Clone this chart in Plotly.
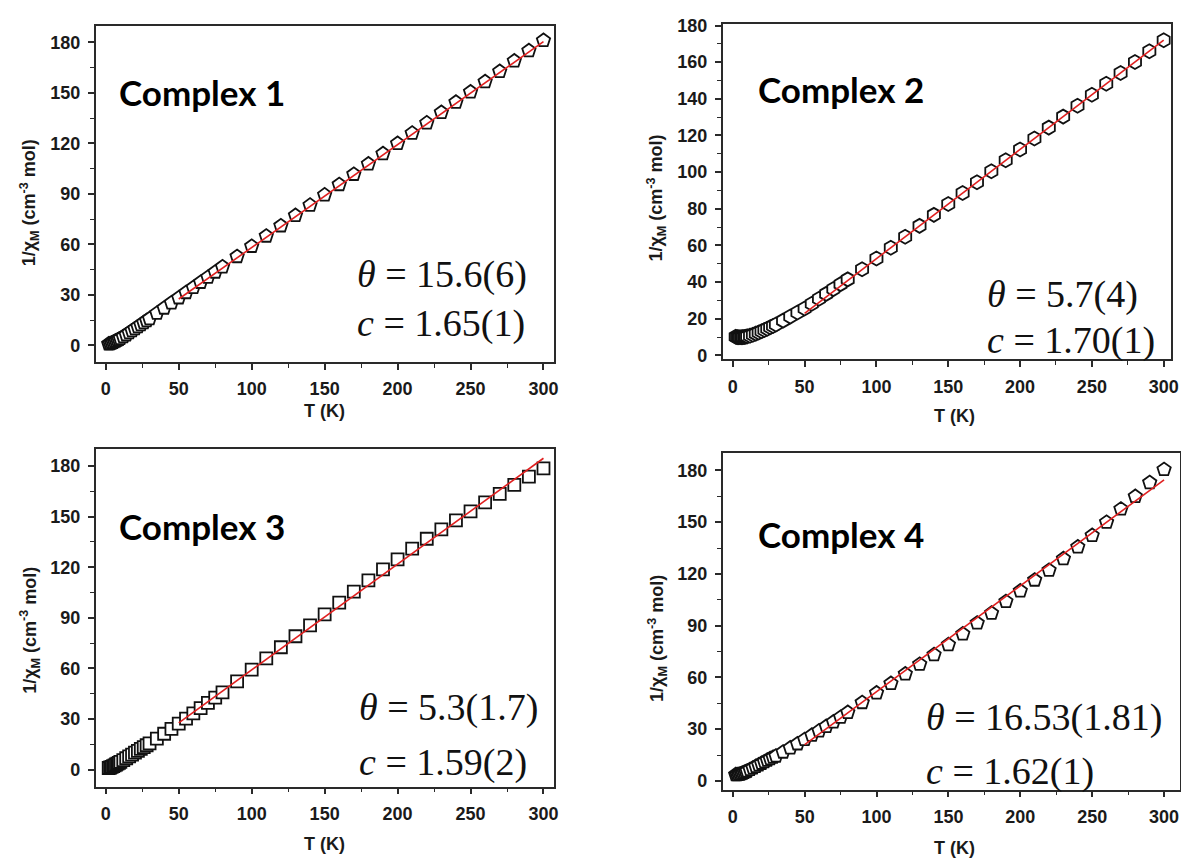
import plotly.graph_objects as go

# figure div sits 8px in from the page corner (default body margin)
OFF = 8
W, H = 1189, 861
# small empirical correction of the photographed page (scale + shift)
SX, AX = 0.993, 0.5
SY, AY = 0.993, 3.3

# ---------------- data ----------------
T_low = [2, 3, 4, 5, 6, 7, 8, 9, 10, 12, 14, 16, 18, 20, 22, 24, 26, 28, 30,
         35, 40, 45, 50, 55, 60, 65, 70, 75, 80,
         90, 100, 110, 120, 130, 140, 150, 160, 170, 180, 190, 200,
         210, 220, 230, 240, 250, 260, 270, 280, 290, 300]

inv_chi_1 = [0.8, 1.0, 1.3, 1.7, 2.1, 2.6, 3.0, 3.5, 4.0, 5.1, 6.2, 7.4, 8.6, 9.8, 11.0, 12.2, 13.4, 14.6, 15.8,
             19.0, 22.1, 25.2, 28.2, 31.3, 34.3, 37.4, 40.4, 43.5, 46.6,
             52.7, 58.8, 64.9, 71.0, 77.2, 83.3, 89.4, 95.5, 101.6, 107.8, 113.9, 120.0,
             126.1, 132.2, 138.4, 144.5, 150.6, 156.7, 162.8, 169.0, 175.1, 181.2]

inv_chi_2 = [10.2, 10.0, 9.9, 9.9, 9.9, 10.0, 10.1, 10.2, 10.4, 10.8, 11.3, 11.9, 12.5, 13.2, 13.9, 14.6, 15.4, 16.1, 16.9,
             19.0, 21.2, 23.4, 25.6, 28.2, 30.9, 33.6, 36.2, 38.9, 41.5,
             47.0, 52.9, 58.8, 64.8, 70.7, 76.7, 82.6, 88.6, 94.5, 100.5, 106.5, 112.4,
             118.4, 124.3, 130.3, 136.2, 142.2, 148.2, 154.1, 160.1, 166.0, 172.0]

inv_chi_3 = [1.0, 1.3, 1.7, 2.1, 2.6, 3.1, 3.6, 4.1, 4.6, 5.7, 6.8, 7.9, 9.0, 10.1, 11.2, 12.3, 13.4, 14.5, 15.6,
             18.4, 21.3, 24.2, 27.3, 30.3, 33.4, 36.5, 39.6, 42.7, 45.8,
             52.4, 59.3, 66.0, 72.6, 79.1, 85.6, 92.1, 99.0, 105.6, 112.2, 118.8, 124.7,
             131.0, 136.9, 142.4, 147.8, 153.1, 158.4, 163.5, 168.8, 173.7, 178.6]

inv_chi_4 = [3.6, 3.6, 3.7, 3.9, 4.2, 4.5, 4.9, 5.3, 5.7, 6.6, 7.5, 8.4, 9.3, 10.2, 11.1, 12.0, 12.9, 13.7, 14.4,
             16.7, 19.1, 21.5, 24.0, 26.5, 29.0, 31.6, 34.2, 36.9, 39.7,
             45.4, 51.0, 56.5, 62.0, 67.6, 73.2, 79.0, 85.2, 91.5, 97.2, 104.0, 110.1,
             116.4, 122.1, 128.8, 135.6, 142.3, 149.9, 157.6, 164.9, 172.9, 180.5]

# Curie-Weiss fit lines (end points, 50-300 K)
fit_T = [50, 300]
fit_1 = [27.5, 180.5]
fit_2 = [23.0, 172.0]
fit_3 = [27.8, 184.6]
fit_4 = [21.0, 174.5]

labels = ["Complex 1", "Complex 2", "Complex 3", "Complex 4"]
theta_txt = ["15.6(6)", "5.7(4)", "5.3(1.7)", "16.53(1.81)"]
c_txt = ["1.65(1)", "1.70(1)", "1.59(2)", "1.62(1)"]

x_ticks = [0, 50, 100, 150, 200, 250, 300]
y_ticks_a = [0, 30, 60, 90, 120, 150, 180]
y_ticks_b = [0, 20, 40, 60, 80, 100, 120, 140, 160, 180]

# ---------------- layout geometry (target pixels) ----------------
# (left, right, top, bottom)
boxes = [(96, 554, 21, 361), (723, 1171, 19, 358), (96, 554, 449, 790), (723, 1180, 453, 793)]
xranges = [[-7, 307], [-7, 305], [-7, 307], [-7, 311]]
yranges = [[-10, 190], [-2, 181], [-10, 190], [-5, 190]]
ytick_sets = [y_ticks_a, y_ticks_b, y_ticks_a, y_ticks_a]
ydt_minor = [15, 10, 15, 15]
symbols = ["pentagon", "hexagon", "square", "pentagon"]
msizes = [14, 14, 12, 14]
series = [inv_chi_1, inv_chi_2, inv_chi_3, inv_chi_4]
fits = [fit_1, fit_2, fit_3, fit_4]

label_pos = [(117, 88), (756, 85), (117, 527), (756, 535)]
theta_pos = [(355, 272, 322), (985, 293, 339), (357, 710, 766), (924, 720, 775)]
xtitle_pos = [(325, 410), (955, 415), (325, 848), (955, 852)]
ytitle_pos = [(30, 200), (657, 195), (30, 632), (657, 640)]


def px(x):
    return ((x - AX) / SX - OFF) / W


def py(y):
    return 1 - ((y - AY) / SY - OFF) / H


fig = go.Figure()
tickfont = dict(family="Liberation Sans", size=18, color="#1a1a1a", weight="bold")
layout = dict(width=W, height=H, margin=dict(l=0, r=0, t=0, b=0),
              paper_bgcolor="white", plot_bgcolor="white", showlegend=False)
annotations = []

for i in range(4):
    L, R, Tp, B = boxes[i]
    xa = "xaxis" if i == 0 else f"xaxis{i+1}"
    ya = "yaxis" if i == 0 else f"yaxis{i+1}"
    xref = "x" if i == 0 else f"x{i+1}"
    yref = "y" if i == 0 else f"y{i+1}"
    common = dict(showline=True, linecolor="#2a2a2a", linewidth=1.6, mirror=True,
                  ticks="outside", ticklen=6, tickwidth=1.6, tickcolor="#2a2a2a",
                  showgrid=False, zeroline=False, tickfont=tickfont,
                  ticklabeloverflow="allow")
    layout[xa] = dict(common, domain=[px(L), px(R)], range=xranges[i], anchor=yref,
                      tickvals=x_ticks, ticklabelstandoff=4,
                      minor=dict(dtick=25, tick0=0, ticks="outside", ticklen=4, tickwidth=1.4,
                                 tickcolor="#2a2a2a", showgrid=False))
    layout[ya] = dict(common, domain=[py(B), py(Tp)], range=yranges[i], anchor=xref,
                      tickvals=ytick_sets[i], ticklabelstandoff=4,
                      minor=dict(dtick=ydt_minor[i], tick0=0, ticks="outside", ticklen=4, tickwidth=1.4,
                                 tickcolor="#2a2a2a", showgrid=False))

    fig.add_trace(go.Scatter(x=T_low, y=series[i], mode="markers", xaxis=xref, yaxis=yref,
                             marker=dict(symbol=symbols[i], size=msizes[i], color="white",
                                         line=dict(color="#111111", width=1.8))))
    fig.add_trace(go.Scatter(x=fit_T, y=fits[i], mode="lines", xaxis=xref, yaxis=yref,
                             line=dict(color="#e02020", width=1.6)))

    lx, ly = label_pos[i]
    annotations.append(dict(text=labels[i], xref="paper", yref="paper", x=px(lx), y=py(ly),
                            xanchor="left", yanchor="middle", showarrow=False,
                            font=dict(family="Lato", size=35, color="black", weight="bold")))
    tx, ty1, ty2 = theta_pos[i]
    serif = dict(family="Liberation Serif", size=38, color="#111111")
    annotations.append(dict(text="<i>θ</i> = " + theta_txt[i], xref="paper", yref="paper",
                            x=px(tx), y=py(ty1), xanchor="left", yanchor="middle",
                            showarrow=False, font=serif))
    annotations.append(dict(text="<i>c</i> = " + c_txt[i], xref="paper", yref="paper",
                            x=px(tx), y=py(ty2), xanchor="left", yanchor="middle",
                            showarrow=False, font=serif))
    xx, xy = xtitle_pos[i]
    annotations.append(dict(text="T (K)", xref="paper", yref="paper", x=px(xx), y=py(xy),
                            xanchor="center", yanchor="middle", showarrow=False,
                            font=dict(family="Liberation Sans", size=18, color="#1a1a1a", weight="bold")))
    yx, yy = ytitle_pos[i]
    annotations.append(dict(text="1/χ<sub>M</sub> (cm<sup>-3</sup> mol)", xref="paper", yref="paper",
                            x=px(yx), y=py(yy), xanchor="center", yanchor="middle",
                            textangle=-90, showarrow=False,
                            font=dict(family="Liberation Sans", size=18, color="#1a1a1a", weight="bold")))

layout["annotations"] = annotations
fig.update_layout(**layout)
fig.write_html("out.html")
